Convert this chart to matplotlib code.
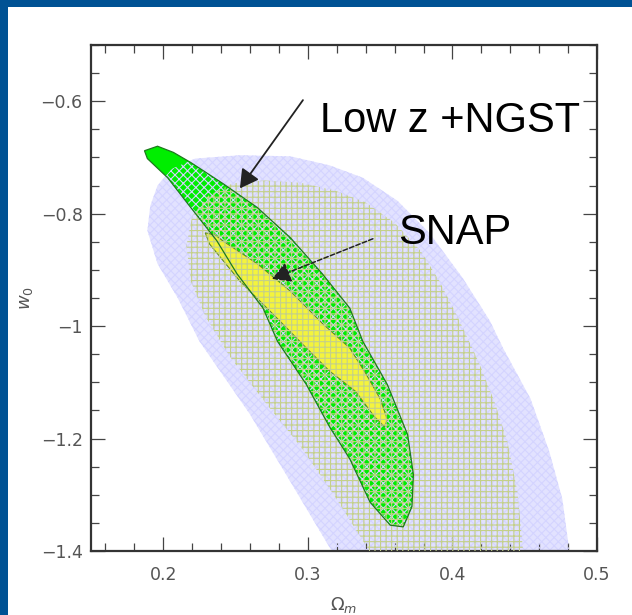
import matplotlib
matplotlib.use("Agg")
import matplotlib.pyplot as plt
from matplotlib.patches import Rectangle
from matplotlib.ticker import MultipleLocator, FixedLocator, FixedFormatter

# outer (blue) region
blue_om = [0.317, 0.288, 0.260, 0.225, 0.210, 0.196, 0.189, 0.191, 0.196, 0.206,
           0.222, 0.253, 0.288, 0.315, 0.338, 0.362, 0.384, 0.407, 0.426, 0.435,
           0.454, 0.467, 0.476, 0.481]
blue_w = [-1.402, -1.277, -1.157, -1.027, -0.950, -0.889, -0.830, -0.786, -0.750, -0.720,
          -0.702, -0.696, -0.698, -0.714, -0.736, -0.777, -0.834, -0.914, -0.991, -1.039,
          -1.129, -1.223, -1.307, -1.402]

# middle (olive grid) region
grid_om = [0.343, 0.319, 0.295, 0.270, 0.246, 0.229, 0.219, 0.216, 0.220, 0.231,
           0.248, 0.270, 0.295, 0.319, 0.340, 0.360, 0.378, 0.391, 0.405, 0.418,
           0.429, 0.438, 0.445, 0.449]
grid_w = [-1.402, -1.304, -1.214, -1.134, -1.054, -0.982, -0.920, -0.857, -0.804, -0.768,
          -0.746, -0.741, -0.745, -0.759, -0.780, -0.816, -0.866, -0.920, -0.991, -1.063,
          -1.134, -1.205, -1.295, -1.402]

# Low z + NGST (green)
ngst_om = [0.187, 0.196, 0.207, 0.219, 0.241, 0.265, 0.288, 0.310, 0.329, 0.338,
           0.355, 0.369, 0.373, 0.372, 0.366, 0.357, 0.343, 0.329, 0.315, 0.299,
           0.279, 0.269, 0.251, 0.237, 0.219, 0.203, 0.189]
ngst_w = [-0.688, -0.680, -0.691, -0.709, -0.746, -0.789, -0.843, -0.907, -0.968, -1.027,
          -1.104, -1.193, -1.264, -1.321, -1.357, -1.354, -1.313, -1.236, -1.179, -1.104,
          -1.027, -0.968, -0.907, -0.848, -0.789, -0.736, -0.702]

# SNAP (yellow)
snap_om = [0.229, 0.236, 0.241, 0.265, 0.288, 0.310, 0.329, 0.340, 0.350, 0.355,
           0.353, 0.346, 0.333, 0.315, 0.299, 0.276, 0.253, 0.232]
snap_w = [-0.834, -0.838, -0.848, -0.889, -0.938, -0.995, -1.039, -1.084, -1.129, -1.166,
          -1.179, -1.161, -1.116, -1.080, -1.039, -0.979, -0.920, -0.854]

xticks = [0.2, 0.3, 0.4, 0.5]
xtick_labels = ["0.2", "0.3", "0.4", "0.5"]
yticks = [-1.4, -1.2, -1.0, -0.8, -0.6]
ytick_labels = ["\u22121.4", "\u22121.2", "\u22121", "\u22120.8", "\u22120.6"]

plt.rcParams["hatch.linewidth"] = 0.8

fig = plt.figure(figsize=(6.32, 6.15), dpi=100, facecolor="#005294")
fig.add_artist(Rectangle((8/632, 0), 1, 608/615, transform=fig.transFigure,
                         facecolor="white", edgecolor="none", zorder=0))

ax = fig.add_axes([0.144, 0.104, 0.8006, 0.8228])

# blue base, then green, then blue texture over it
ax.fill(blue_om, blue_w, color="#e2e2ff", lw=0, zorder=0.5)
ax.fill(ngst_om, ngst_w, color="#00ee00", lw=0, zorder=1)
ax.fill(blue_om, blue_w, facecolor="none", edgecolor="#d4d4ff", hatch="xxxx", lw=0, zorder=2)
ax.fill(snap_om, snap_w, facecolor="#f4f43c", edgecolor="#5f8a2a", lw=0.8, zorder=3)
ax.fill(grid_om, grid_w, facecolor="none", edgecolor="#c4d08a", hatch="+++", lw=0, zorder=4)
ax.fill(ngst_om, ngst_w, facecolor="none", edgecolor="#1d7a1d", lw=0.9, zorder=5)

# labels and arrows
ax.text(0.3084, -0.655, "Low z +NGST", fontsize=30, family="Liberation Sans", zorder=7)
ax.text(0.3623, -0.8536, "SNAP", fontsize=30, family="Liberation Sans", zorder=7)
ax.annotate("", xy=(0.253, -0.755), xytext=(0.2966, -0.598),
            arrowprops=dict(arrowstyle="-|>,head_length=0.8,head_width=0.45",
                            color="#222222", lw=1.3, mutation_scale=14,
                            shrinkA=0, shrinkB=0), zorder=6)
ax.annotate("", xy=(0.2752, -0.916), xytext=(0.345, -0.8446),
            arrowprops=dict(arrowstyle="-|>,head_length=0.8,head_width=0.45",
                            color="#222222", lw=1.1, ls=(0, (3, 1.5)), mutation_scale=14,
                            shrinkA=0, shrinkB=0), zorder=6)

ax.set_xlim(0.15, 0.5)
ax.set_ylim(-1.4, -0.5)
ax.xaxis.set_major_locator(FixedLocator(xticks))
ax.xaxis.set_major_formatter(FixedFormatter(xtick_labels))
ax.yaxis.set_major_locator(FixedLocator(yticks))
ax.yaxis.set_major_formatter(FixedFormatter(ytick_labels))
ax.xaxis.set_minor_locator(MultipleLocator(0.02))
ax.yaxis.set_minor_locator(MultipleLocator(0.05))
ax.tick_params(which="both", direction="in", top=True, right=True, color="#444444", width=0.9)
ax.tick_params(which="major", length=10)
ax.tick_params(which="minor", length=6)
ax.tick_params(axis="x", which="major", pad=11, labelsize=12.5, labelcolor="#555555")
ax.tick_params(axis="y", which="major", pad=6, labelsize=12.5, labelcolor="#555555")
for s in ax.spines.values():
    s.set_linewidth(1.6)
    s.set_color("#333333")

ax.set_xlabel(r"$\Omega_m$", fontsize=13, color="#555555", labelpad=8)
ax.set_ylabel(r"$w_0$", fontsize=13, color="#555555", labelpad=4)

plt.savefig("out.png", dpi=100, facecolor=fig.get_facecolor())
